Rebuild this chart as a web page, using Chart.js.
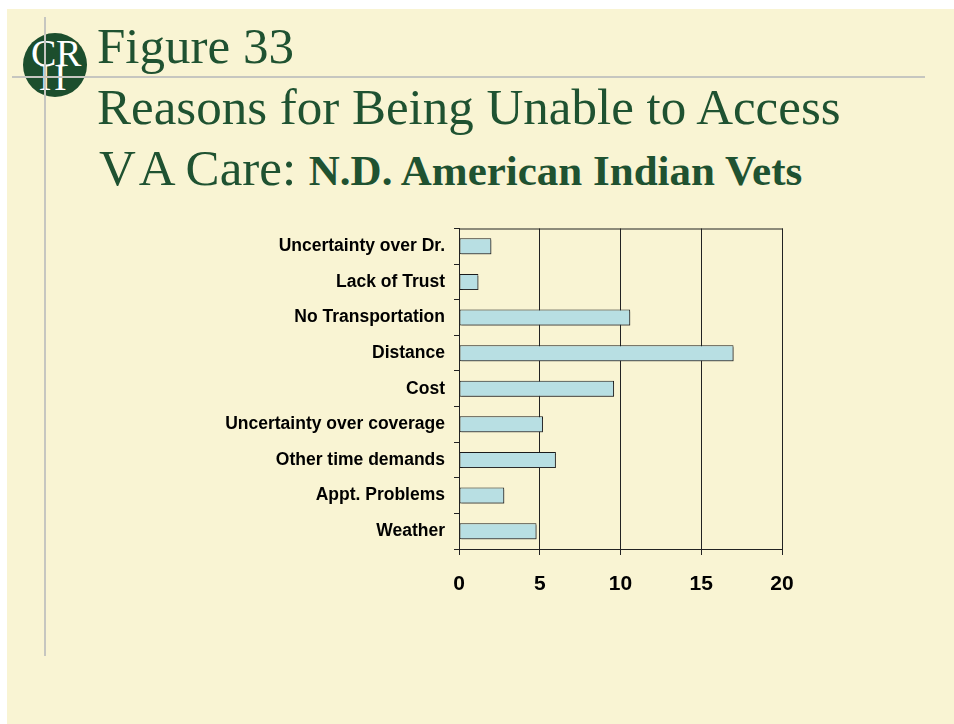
<!DOCTYPE html>
<html>
<head>
<meta charset="utf-8">
<script src="https://cdn.jsdelivr.net/npm/chart.js@4.4.0/dist/chart.umd.min.js"></script>
<style>
  body { margin: 0; background: #fff; width: 954px; height: 724px; overflow: hidden; position: relative; }
  #slide { position: absolute; left: 7px; top: 9px; width: 947px; height: 715px; background: #f9f4d3; }
  .t { position: absolute; font-family: "Liberation Serif", "Times New Roman", serif; color: #1f5231; white-space: nowrap; line-height: 48px; font-size: 51px; }
  .t b { font-size: 43px; }
  #logo { position: absolute; left: 23px; top: 33px; width: 64px; height: 64px; border-radius: 50%; background: #1c4e2d; }
  .lg { position: absolute; font-family: "Liberation Serif", serif; color: #fff; font-size: 38px; line-height: 38px; }
  .hl { position: absolute; background: #c6c6c0; }
  #wrap { position: absolute; left: 200px; top: 209px; width: 620px; height: 406px; }
</style>
</head>
<body>
<div id="slide"></div>
<div id="logo">
  <span class="lg" style="left:8px;top:1px;">C</span>
  <span class="lg" style="left:33px;top:1px;">R</span>
  <span class="lg" style="left:16px;top:25px;">H</span>
</div>
<div class="hl" style="left:12px;top:76px;width:913px;height:2px;"></div>
<div class="hl" style="left:44px;top:17px;width:2px;height:639px;"></div>
<div class="t" style="left:97px;top:22px;">Figure 33</div>
<div class="t" style="left:97px;top:83px;">Reasons for Being Unable to Access</div>
<div class="t" style="left:99px;top:144px;"><span style="margin-right:3px">V</span>A Care: <b>N.D. American Indian Vets</b></div>
<div id="wrap"><canvas id="chart"></canvas></div>
<script>
const razoes = ["Uncertainty over Dr.", "Lack of Trust", "No Transportation", "Distance", "Cost",
                "Uncertainty over coverage", "Other time demands", "Appt. Problems", "Weather"];
const valores = [2.0, 1.2, 10.6, 17.0, 9.6, 5.2, 6.0, 2.8, 4.8];
const eixoMin = 0;
const eixoMax = 20;
const passo = 5;

// sombra das barras + moldura do gráfico
const sombra = {
    id: 'sombra',
    beforeDatasetsDraw(chart) {
        const ctx = chart.ctx;
        ctx.save();
        ctx.shadowColor = 'rgba(60,60,60,0.55)';
        ctx.shadowOffsetX = 2;
        ctx.shadowOffsetY = 2;
        ctx.shadowBlur = 0;
    },
    afterDatasetsDraw(chart) {
        chart.ctx.restore();
    },
    afterDraw(chart) {
        const a = chart.chartArea, ctx = chart.ctx;
        ctx.save();
        ctx.strokeStyle = '#222';
        ctx.lineWidth = 1;
        ctx.strokeRect(a.left + 0.5, a.top + 0.5, a.right - a.left, a.bottom - a.top);
        ctx.restore();
    }
};

new Chart(document.getElementById("chart"), {
    type: 'bar',
    data: {
        labels: razoes,
        datasets: [{
            data: valores,
            backgroundColor: '#b8dfe3',
            borderColor: '#1a1a1a',
            borderWidth: 1,
            borderSkipped: false,
            categoryPercentage: 1,
            barPercentage: 0.45
        }]
    },
    options: {
        indexAxis: 'y',
        responsive: true,
        maintainAspectRatio: false,
        animation: false,
        layout: { padding: { top: 13, right: 38, bottom: 0, left: 0 } },
        plugins: { legend: { display: false }, tooltip: { enabled: false } },
        scales: {
            x: {
                min: eixoMin,
                max: eixoMax,
                ticks: { stepSize: passo, color: '#000', padding: 17, font: { family: 'Liberation Sans, Arial', size: 21, weight: 'bold' } },
                grid: { color: '#222', lineWidth: 1, tickLength: 6 },
                border: { color: '#222' },
                afterFit(s) { s.height = 66; }
            },
            y: {
                ticks: { color: '#000', padding: 9, font: { family: 'Liberation Sans, Arial', size: 17.5, weight: 'bold' } },
                grid: { drawOnChartArea: false, color: '#222', tickLength: 5 },
                border: { color: '#222' },
                afterFit(s) { s.width = 259; }
            }
        }
    },
    plugins: [sombra]
});
</script>
</body>
</html>
